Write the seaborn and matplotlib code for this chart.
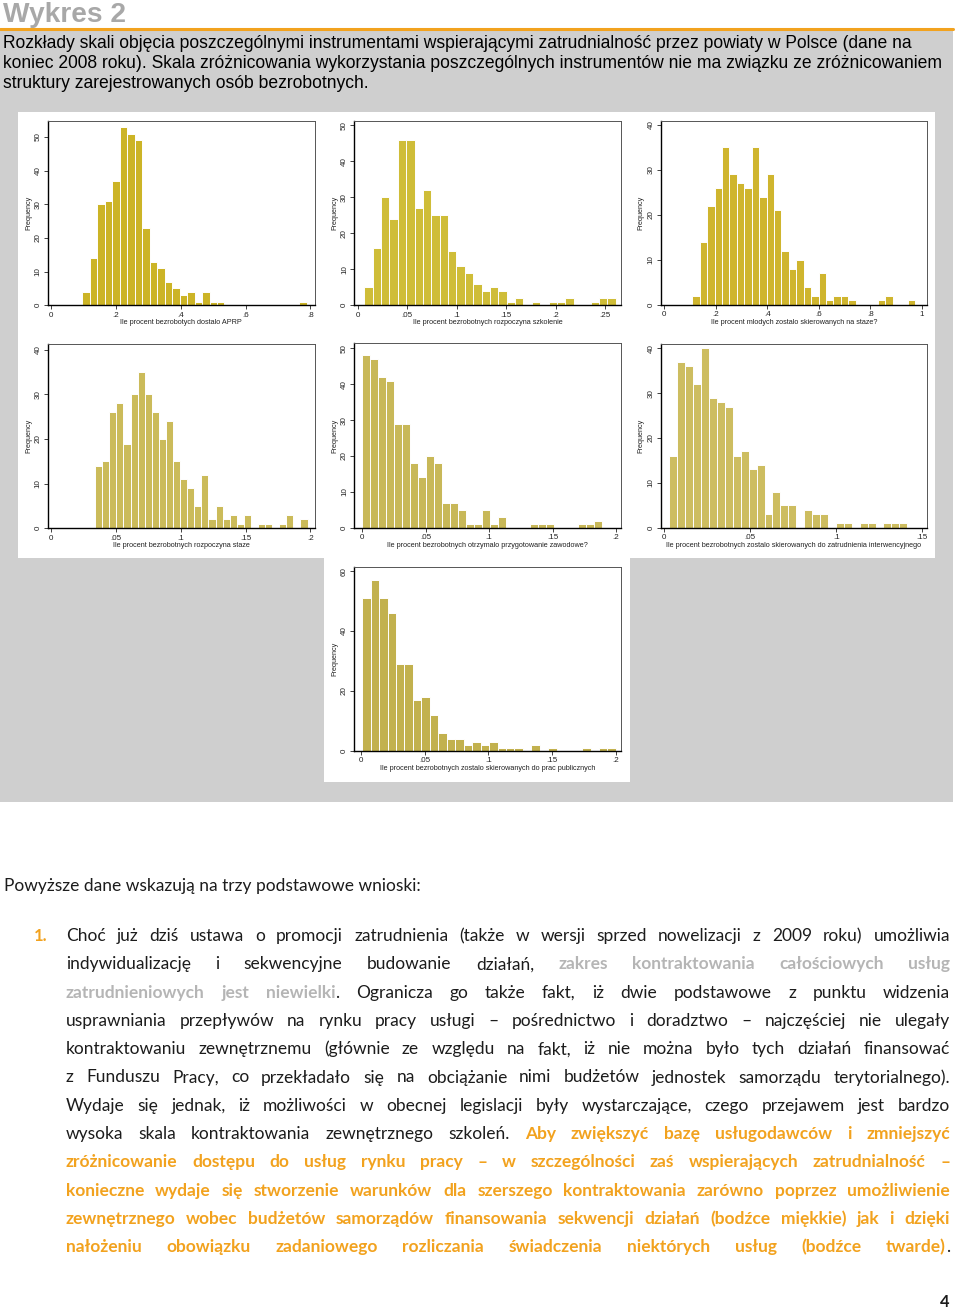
import numpy as np
import pandas as pd
import matplotlib
matplotlib.use('Agg')
import matplotlib.pyplot as plt
import seaborn as sns
from matplotlib.patches import Rectangle

W, H = 960, 1310

# histogram counts (30 bins each)
aprp_counts = [4, 14, 30, 31, 37, 53, 51, 49, 23, 13, 11, 7, 5, 3, 4, 1, 4, 1, 1,
               0, 0, 0, 0, 0, 0, 0, 0, 0, 0, 1]
szkol_counts = [5, 16, 30, 24, 46, 46, 27, 32, 25, 25, 15, 11, 9, 6, 4, 5, 4, 1, 2,
                0, 1, 0, 1, 1, 2, 0, 0, 1, 2, 2]
mlodzi_counts = [2, 14, 22, 26, 35, 29, 27, 26, 35, 24, 29, 21, 12, 8, 10, 4, 2, 7,
                 1, 2, 2, 1, 0, 0, 0, 1, 2, 0, 0, 1]
staz_counts = [14, 15, 26, 28, 19, 30, 35, 30, 26, 20, 24, 15, 11, 9, 5, 12, 2, 5,
               2, 3, 1, 3, 0, 1, 1, 0, 1, 3, 0, 2]
przyg_counts = [48, 47, 42, 41, 29, 29, 18, 14, 20, 18, 7, 7, 5, 1, 1, 5, 1, 3,
                0, 0, 0, 1, 1, 1, 0, 0, 0, 1, 1, 2]
interw_counts = [16, 37, 36, 32, 40, 29, 28, 27, 16, 17, 13, 14, 3, 8, 5, 5, 0, 4,
                 3, 3, 0, 1, 1, 0, 1, 1, 0, 1, 1, 1]
publ_counts = [51, 57, 51, 46, 29, 29, 17, 18, 12, 6, 4, 4, 2, 3, 2, 3, 1, 1, 1,
               0, 2, 0, 1, 0, 0, 0, 1, 0, 1, 1]

# first bin edge and bin width of each histogram
bin_starts = [0.0958, 0.0067, 0.1098, 0.0338, 0.0, 0.0031, 0.001]
bin_widths = [0.0231, 0.00847, 0.02877, 0.005466, 0.0063, 0.004606, 0.00663]

x_labels = [
    "Ile procent bezrobotych dostalo APRP",
    "Ile procent bezrobotnych rozpoczyna szkolenie",
    "Ile procent mlodych zostalo skierowanych na staze?",
    "Ile procent bezrobotnych rozpoczyna staze",
    "Ile procent bezrobotnych otrzymalo przygotowanie zawodowe?",
    "Ile procent bezrobotnych zostalo skierowanych do zatrudnienia interwencyjnego",
    "Ile procent bezrobotnych zostalo skierowanych do prac publicznych",
]
x_ticks = [
    [0, 0.2, 0.4, 0.6, 0.8],
    [0, 0.05, 0.1, 0.15, 0.2, 0.25],
    [0, 0.2, 0.4, 0.6, 0.8, 1],
    [0, 0.05, 0.1, 0.15, 0.2],
    [0, 0.05, 0.1, 0.15, 0.2],
    [0, 0.05, 0.1, 0.15],
    [0, 0.05, 0.1, 0.15, 0.2],
]
y_ticks = [
    [0, 10, 20, 30, 40, 50],
    [0, 10, 20, 30, 40, 50],
    [0, 10, 20, 30, 40],
    [0, 10, 20, 30, 40],
    [0, 10, 20, 30, 40, 50],
    [0, 10, 20, 30, 40],
    [0, 20, 40, 60],
]

caption_lines = [
    "Rozkłady skali objęcia poszczególnymi instrumentami wspierającymi zatrudnialność przez powiaty w Polsce (dane na",
    "koniec 2008 roku). Skala zróżnicowania wykorzystania poszczególnych instrumentów nie ma związku ze zróżnicowaniem",
    "struktury zarejestrowanych osób bezrobotnych.",
]

# n = plain, g = grey bold, o = orange bold
para_lines = [
    [("Choć już dziś ustawa o promocji zatrudnienia (także w wersji sprzed nowelizacji z 2009 roku) umożliwia", "n")],
    [("indywidualizację i sekwencyjne budowanie działań, ", "n"), ("zakres kontraktowania całościowych usług", "g")],
    [("zatrudnieniowych jest niewielki", "g"), (". Ogranicza go także fakt, iż dwie podstawowe z punktu widzenia", "n")],
    [("usprawniania przepływów na rynku pracy usługi – pośrednictwo i doradztwo – najczęściej nie ulegały", "n")],
    [("kontraktowaniu zewnętrznemu (głównie ze względu na fakt, iż nie można było tych działań finansować", "n")],
    [("z Funduszu Pracy, co przekładało się na obciążanie nimi budżetów jednostek samorządu terytorialnego).", "n")],
    [("Wydaje się jednak, iż możliwości w obecnej legislacji były wystarczające, czego przejawem jest bardzo", "n")],
    [("wysoka skala kontraktowania zewnętrznego szkoleń. ", "n"), ("Aby zwiększyć bazę usługodawców i zmniejszyć", "o")],
    [("zróżnicowanie dostępu do usług rynku pracy – w szczególności zaś wspierających zatrudnialność –", "o")],
    [("konieczne wydaje się stworzenie warunków dla szerszego kontraktowania zarówno poprzez umożliwienie", "o")],
    [("zewnętrznego wobec budżetów samorządów finansowania sekwencji działań (bodźce miękkie) jak i dzięki", "o")],
    [("nałożeniu obowiązku zadaniowego rozliczania świadczenia niektórych usług (bodźce twarde)", "o"), (".", "n")],
]

# ---------------------------------------------------------------- layout
sns.set_style("white")
plt.rcParams['font.family'] = ['Liberation Sans', 'DejaVu Sans']

ORANGE = '#f2a21e'
BODY_FONT = ['Lato', 'DejaVu Sans']
STYLE = {'n': dict(color='#1c1c1c', weight='normal'),
         'g': dict(color='#b5b5b5', weight='bold'),
         'o': dict(color=ORANGE, weight='bold')}

# frame boxes (left, top, right, bottom) in page pixels, with axis limits
boxes = [(48, 121, 314.7, 305.3), (354.3, 121, 621, 305.3), (660.7, 121, 927.3, 304.7),
         (48, 344, 314.7, 528.3), (354.3, 343.3, 621, 527.7), (660.7, 344, 927.3, 527.7),
         (354.3, 567, 621, 750.7)]
xlims = [(-0.0103, 0.8134), (-0.0034, 0.2662), (-0.0129, 1.0207), (-0.0026, 0.2033),
         (-0.0063, 0.204), (-0.0019, 0.1529), (-0.0052, 0.2039)]
ylims = [54.75, 51.2, 40.8, 41.3, 51.4, 40.97, 61.4]
colors = ['#ccb426', '#cfbd38', '#cfb52e', '#cbbb5a', '#c8b858', '#cdbd60', '#c2b14e']

fig = plt.figure(figsize=(W / 100, H / 100), dpi=100)
fig.patch.set_facecolor('white')


def fx(x):
    return x / W


def fy(y):
    return 1 - y / H


def rect(x0, y0, x1, y1, color):
    fig.patches.append(Rectangle((fx(x0), fy(y1)), (x1 - x0) / W, (y1 - y0) / H,
                                 transform=fig.transFigure, facecolor=color,
                                 edgecolor='none', zorder=-10))


# grey box, white chart backgrounds, orange rule
rect(0, 30, 953, 802, '#cfcfcf')
rect(18, 112, 935, 558, 'white')
rect(324, 558, 630, 782, 'white')
fig.add_artist(plt.Line2D([0, fx(953)], [fy(28.5), fy(28.5)], transform=fig.transFigure,
                          color=ORANGE, lw=2.2))


def tick_fmt(v):
    if v == 0:
        return '0'
    if v == 1:
        return '1'
    return f'{v:g}'.lstrip('0')


all_counts = [aprp_counts, szkol_counts, mlodzi_counts, staz_counts,
              przyg_counts, interw_counts, publ_counts]

for i, counts in enumerate(all_counts):
    l, t, r, b = boxes[i]
    ax = fig.add_axes([fx(l), fy(b), (r - l) / W, (b - t) / H])
    edges = bin_starts[i] + bin_widths[i] * np.arange(len(counts) + 1)
    df = pd.DataFrame({'x': (edges[:-1] + edges[1:]) / 2, 'n': counts})
    sns.histplot(data=df, x='x', weights='n', bins=edges.tolist(), ax=ax, color=colors[i],
                 alpha=1, edgecolor='white', linewidth=0.7)
    ax.set_xlim(*xlims[i])
    ax.set_ylim(0, ylims[i])
    ax.set_xticks(x_ticks[i])
    ax.set_xticklabels([tick_fmt(v) for v in x_ticks[i]])
    ax.set_yticks(y_ticks[i])
    ax.set_yticklabels([str(v) for v in y_ticks[i]], rotation=90, va='center')
    ax.tick_params(direction='out', length=3, width=0.6, labelsize=5.8, pad=1.5,
                   colors='#222222', bottom=True, left=True)
    ax.set_xlabel(x_labels[i], fontsize=5.2, labelpad=0.5, color='#222222')
    ax.set_ylabel('Frequency', fontsize=5.2, labelpad=2, color='#222222')
    for side in ['left', 'bottom']:
        ax.spines[side].set_color('black')
        ax.spines[side].set_linewidth(1.0)
    for side in ['top', 'right']:
        ax.spines[side].set_color('#555555')
        ax.spines[side].set_linewidth(0.7)
    ax.set_facecolor('white')

# ---------------------------------------------------------------- texts
rend = fig.canvas.get_renderer()


def measure(s, size, family, **kw):
    t = fig.text(0, 0, s, fontsize=size, family=family, **kw)
    w = t.get_window_extent(rend).width
    t.remove()
    return w


# title
tsize = 20 * 123 / measure("Wykres 2", 20, ['Liberation Sans'], weight='bold')
fig.text(fx(3), fy(22), "Wykres 2", fontsize=tsize, weight='bold', color='#a8a8a8',
         family=['Liberation Sans'], va='baseline')

# caption
csize = 12 * 914 / measure(caption_lines[0], 12, ['Liberation Sans'])
for k, line in enumerate(caption_lines):
    fig.text(fx(3), fy(48 + 20 * k), line, fontsize=csize, color='black',
             family=['Liberation Sans'], va='baseline')


def split_words(segs):
    words, new = [], True
    for text, st in segs:
        for j, p in enumerate(text.split(' ')):
            if j > 0:
                new = True
            if not p:
                continue
            if new:
                words.append([])
                new = False
            words[-1].append((p, st))
    return words


X0, X1 = 66, 950
base = 12.5
space = measure('a a', base, BODY_FONT) - measure('aa', base, BODY_FONT)
scale = 1.0
for segs in para_lines:
    words = split_words(segs)
    tot = sum(measure(p, base, BODY_FONT, **STYLE[st]) for w in words for p, st in w)
    natural = tot + (len(words) - 1) * space * 0.7
    scale = min(scale, (X1 - X0) / natural)
bsize = base * scale

fig.text(fx(4), fy(891), "Powyższe dane wskazują na trzy podstawowe wnioski:",
         fontsize=bsize, family=BODY_FONT, va='baseline', **STYLE['n'])
fig.text(fx(34), fy(941), "1.", fontsize=bsize * 0.95, family=BODY_FONT, va='baseline',
         **STYLE['o'])

for k, segs in enumerate(para_lines):
    y = 941 + 28.3 * k
    words = split_words(segs)
    widths = [[measure(p, bsize, BODY_FONT, **STYLE[st]) for p, st in w] for w in words]
    tot = sum(sum(ws) for ws in widths)
    gap = (X1 - X0 - tot) / (len(words) - 1)
    x = X0
    for w, ws in zip(words, widths):
        for (p, st), pw in zip(w, ws):
            fig.text(fx(x), fy(y), p, fontsize=bsize, family=BODY_FONT, va='baseline',
                     **STYLE[st])
            x += pw
        x += gap

fig.text(fx(949), fy(1307), "4", fontsize=bsize * 0.95, family=BODY_FONT, weight='bold',
         color='#1c1c1c', ha='right', va='baseline')

fig.savefig('out.png', dpi=100)
